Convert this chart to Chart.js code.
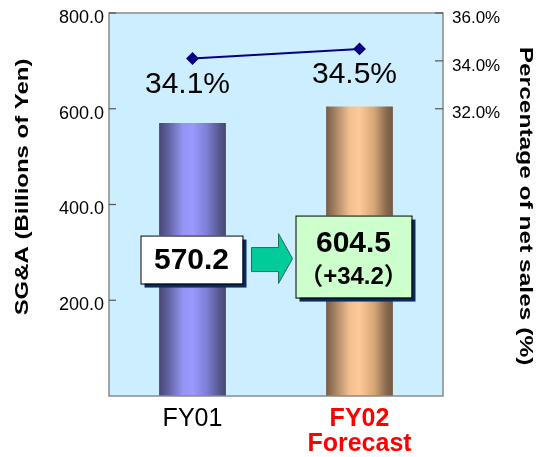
<!DOCTYPE html>
<html>
<head>
<meta charset="utf-8">
<style>
  html, body { margin: 0; padding: 0; background: #fff; }
  #wrap { width: 536px; height: 457px; }
</style>
<script src="https://cdn.jsdelivr.net/npm/chart.js@4.4.0/dist/chart.umd.min.js"></script>
</head>
<body>
<div id="wrap"><canvas id="chart" width="536" height="457"></canvas></div>
<script>
const categories = [['FY01'], ['FY02', 'Forecast']];
const sgaValues = [570.2, 604.5];
const ratioValues = [34.1, 34.5];
const leftTicks = [200, 400, 600, 800];
const rightTicks = [32, 34, 36];
const changeText = '（+34.2）';
const leftTitle = 'SG&A (Billions of Yen)';
const rightTitle = 'Percentage of net sales (%)';

const FONT = "'Liberation Sans', Arial, 'Noto Sans CJK JP', sans-serif";

const barStops = [
	[[0, '#474777'], [0.12, '#5d5d99'], [0.35, '#9393f2'], [0.5, '#9a9aff'], [0.72, '#7d7dd4'], [0.9, '#57578f'], [1, '#464674']],
	[[0, '#765c46'], [0.12, '#a07e5e'], [0.35, '#f2bf8f'], [0.5, '#ffc998'], [0.72, '#d6a676'], [0.9, '#8a6a4e'], [1, '#725843']]
];

function barGradient(ctx) {
	const chart = ctx.chart;
	const xs = chart.scales.x;
	if (!xs || !chart.chartArea) return '#9a9aff';
	const cx = xs.getPixelForValue(ctx.dataIndex);
	const w = (xs.width / categories.length) * 0.4;
	const g = chart.ctx.createLinearGradient(cx - w / 2, 0, cx + w / 2, 0);
	barStops[ctx.dataIndex].forEach(([o, c]) => g.addColorStop(o, c));
	return g;
}

function drawBox(c, x, y, w, h, fill) {
	c.fillStyle = '#0b2a5c';
	c.fillRect(x + 4, y + 4, w, h);
	c.fillStyle = fill;
	c.fillRect(x, y, w, h);
	c.strokeStyle = '#000';
	c.lineWidth = 1;
	c.strokeRect(x + 0.5, y + 0.5, w, h);
}

function drawTitle(c, text, x, y, angle, stretch) {
	c.save();
	c.fillStyle = '#000';
	c.textAlign = 'center';
	c.textBaseline = 'middle';
	c.font = 'bold 19px ' + FONT;
	c.translate(x, y);
	c.rotate(angle);
	c.scale(stretch, 1);
	c.fillText(text, 0, 0);
	c.restore();
}

const plotDecor = {
	id: 'plotDecor',
	beforeDraw(chart) {
		const { ctx, chartArea: a } = chart;
		ctx.save();
		ctx.fillStyle = '#cceeff';
		ctx.fillRect(a.left, a.top, a.right - a.left, a.bottom - a.top);
		ctx.restore();
	},
	afterDatasetsDraw(chart) {
		const { ctx, chartArea: a } = chart;
		const xs = chart.scales.x;
		const ys = chart.scales.y;
		const ys1 = chart.scales.y1;
		ctx.save();
		ctx.strokeStyle = '#8a8a8a';
		ctx.lineWidth = 1.5;
		ctx.strokeRect(a.left, a.top, a.right - a.left, a.bottom - a.top);

		// tick marks point into the plot
		ctx.strokeStyle = '#555';
		ctx.lineWidth = 1.2;
		leftTicks.forEach((v) => {
			const y = ys.getPixelForValue(v);
			ctx.beginPath();
			ctx.moveTo(a.left, y);
			ctx.lineTo(a.left + 7, y);
			ctx.stroke();
		});
		rightTicks.forEach((v) => {
			const y = ys1.getPixelForValue(v);
			ctx.beginPath();
			ctx.moveTo(a.right, y);
			ctx.lineTo(a.right - 8, y);
			ctx.stroke();
		});

		// percentage labels under the line points
		const pts = chart.getDatasetMeta(1).data;
		ctx.fillStyle = '#000';
		ctx.font = '30px ' + FONT;
		ctx.textAlign = 'center';
		ctx.textBaseline = 'middle';
		pts.forEach((p, i) => {
			ctx.fillText(ratioValues[i].toFixed(1) + '%', p.x - 5, p.y + 26);
		});

		// value boxes
		const x0 = xs.getPixelForValue(0);
		const x1 = xs.getPixelForValue(1);
		const yMid = ys.getPixelForValue(285);

		drawBox(ctx, x0 - 52, yMid - 24, 102, 48, '#ffffff');
		ctx.fillStyle = '#000';
		ctx.font = 'bold 30px ' + FONT;
		ctx.fillText(sgaValues[0].toFixed(1), x0 - 1, yMid + 1);

		drawBox(ctx, x1 - 64, yMid - 44, 116, 82, '#ccffcc');
		ctx.fillStyle = '#000';
		ctx.font = 'bold 30px ' + FONT;
		ctx.fillText(sgaValues[1].toFixed(1), x1 - 6, yMid - 16);
		ctx.font = 'bold 24px ' + FONT;
		ctx.fillText(changeText, x1 - 6, yMid + 18);

		// arrow between boxes
		const ax = x0 + 59;
		ctx.beginPath();
		ctx.moveTo(ax, yMid - 12);
		ctx.lineTo(ax + 27, yMid - 12);
		ctx.lineTo(ax + 27, yMid - 26);
		ctx.lineTo(ax + 41, yMid - 1);
		ctx.lineTo(ax + 27, yMid + 24);
		ctx.lineTo(ax + 27, yMid + 12);
		ctx.lineTo(ax, yMid + 12);
		ctx.closePath();
		ctx.fillStyle = '#00cc99';
		ctx.fill();
		ctx.strokeStyle = '#2a6a5a';
		ctx.lineWidth = 1;
		ctx.stroke();
		ctx.restore();
	},
	afterDraw(chart) {
		drawTitle(chart.ctx, leftTitle, 23, 187, -Math.PI / 2, 1.26);
		drawTitle(chart.ctx, rightTitle, 525, 206, Math.PI / 2, 1.29);
	}
};

function noPad(s) {
	s.paddingTop = 0;
	s.paddingBottom = 0;
}

new Chart(document.getElementById('chart'), {
	data: {
		labels: categories,
		datasets: [
			{
				type: 'bar',
				data: sgaValues,
				yAxisID: 'y',
				backgroundColor: barGradient,
				borderWidth: 0,
				barPercentage: 0.4,
				categoryPercentage: 1,
				order: 2
			},
			{
				type: 'line',
				data: ratioValues,
				yAxisID: 'y1',
				borderColor: '#000080',
				borderWidth: 2,
				pointStyle: 'rectRot',
				pointRadius: 5,
				pointBackgroundColor: '#000080',
				pointBorderColor: '#000080',
				order: 1
			}
		]
	},
	options: {
		responsive: false,
		animation: false,
		layout: { padding: { top: 13, left: 0, right: 0, bottom: 0 } },
		plugins: { legend: { display: false }, tooltip: { enabled: false } },
		scales: {
			x: {
				grid: { display: false, drawTicks: false },
				border: { display: false },
				afterFit: (s) => { s.height = 61; },
				ticks: {
					padding: 11,
					color: (c) => (c.index === 1 ? '#ff0000' : '#000000'),
					font: (c) => ({ family: FONT, size: 25, weight: c.index === 1 ? 'bold' : 'normal', lineHeight: 1.0 })
				}
			},
			y: {
				position: 'left',
				min: 0,
				max: 800,
				afterBuildTicks: (s) => { s.ticks = leftTicks.map((v) => ({ value: v })); },
				afterFit: (s) => { s.width = 109; noPad(s); },
				grid: { display: false, drawTicks: false },
				border: { display: false },
				ticks: {
					padding: 5,
					labelOffset: 5,
					color: '#000',
					font: { family: FONT, size: 18 },
					callback: (v) => Number(v).toFixed(1)
				}
			},
			y1: {
				position: 'right',
				min: 20,
				max: 36,
				afterBuildTicks: (s) => { s.ticks = rightTicks.map((v) => ({ value: v })); },
				afterFit: (s) => { s.width = 93; noPad(s); },
				grid: { display: false, drawTicks: false },
				border: { display: false },
				ticks: {
					padding: 9,
					labelOffset: 5,
					color: '#000',
					font: { family: FONT, size: 17 },
					callback: (v) => Number(v).toFixed(1) + '%'
				}
			}
		}
	},
	plugins: [plotDecor]
});
</script>
</body>
</html>
